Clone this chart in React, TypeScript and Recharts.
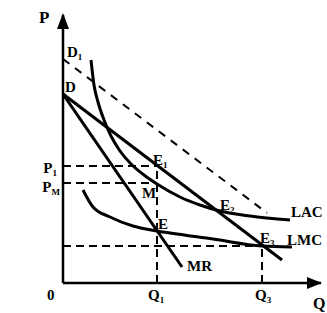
import { ComposedChart, Line, XAxis, YAxis, ReferenceLine, ReferenceDot } from "recharts";

// quantity (q) and price (p) in chart units
const demand = [{ q: 0, p: 189 }, { q: 219, p: 23 }];
const demandShifted = [{ q: 0, p: 224 }, { q: 204, p: 70 }];
const marginalRevenue = [{ q: 0, p: 189 }, { q: 119, p: 16 }];
const lac = [
  { q: 28, p: 223 }, { q: 31, p: 198 }, { q: 35, p: 181 }, { q: 41, p: 163 },
  { q: 48, p: 147 }, { q: 57, p: 132 }, { q: 68, p: 119 }, { q: 81, p: 108 },
  { q: 94, p: 99 }, { q: 117, p: 86 }, { q: 137, p: 78 }, { q: 157, p: 72 },
  { q: 187, p: 67 }, { q: 227, p: 63 },
];
const lmc = [
  { q: 20, p: 93 }, { q: 30, p: 76 }, { q: 47, p: 66 }, { q: 70, p: 57 },
  { q: 94, p: 52 }, { q: 107, p: 50 }, { q: 150, p: 44 }, { q: 199, p: 37 },
  { q: 229, p: 36 },
];

const Q1 = 94;
const Q3 = 199;
const P1 = 117;
const PM = 100;
const PC = 37;
const E = 52;
const E2 = { q: 155, p: 72 };
const Q_MAX = 258;
const P_MAX = 268;

const FONT = "'Liberation Serif', 'Times New Roman', serif";

const tag = (main: string, sub: string, dx: number, dy: number, anchor = "start", size = 15) =>
  (props: any) => (
    <text x={props.cx + dx} y={props.cy + dy} textAnchor={anchor} fontFamily={FONT}
      fontWeight="bold" fontSize={size} fill="#000">
      {main}
      {sub ? <tspan fontSize={Math.round(size * 0.62)} dy={3}>{sub}</tspan> : null}
    </text>
  );

const arrowUp = (props: any) => (
  <polygon points={`${props.cx},${props.cy - 2} ${props.cx - 6},${props.cy + 14} ${props.cx + 6},${props.cy + 14}`} fill="#000" />
);

const arrowRight = (props: any) => (
  <polygon points={`${props.cx + 1},${props.cy} ${props.cx - 14},${props.cy - 6} ${props.cx - 14},${props.cy + 6}`} fill="#000" />
);

const dash = { stroke: "#000", strokeWidth: 2, strokeDasharray: "8 5" };

const App = () => (
  <div style={{ position: "absolute", left: 0, top: 0, background: "#fff" }}>
    <ComposedChart width={327} height={313} margin={{ top: 15, right: 6, bottom: 0, left: 0 }}>
      <XAxis type="number" dataKey="q" domain={[0, Q_MAX]} allowDataOverflow height={30}
        tick={false} tickLine={false} axisLine={{ stroke: "#000", strokeWidth: 2.5 }} />
      <YAxis type="number" dataKey="p" domain={[0, P_MAX]} allowDataOverflow width={63}
        tick={false} tickLine={false} axisLine={{ stroke: "#000", strokeWidth: 2.5 }} />

      <ReferenceLine segment={[{ x: 0, y: P1 }, { x: Q1, y: P1 }]} {...dash} />
      <ReferenceLine segment={[{ x: 0, y: PM }, { x: Q1, y: PM }]} {...dash} />
      <ReferenceLine segment={[{ x: Q1, y: 0 }, { x: Q1, y: P1 }]} {...dash} />
      <ReferenceLine segment={[{ x: 0, y: PC }, { x: Q3, y: PC }]} {...dash} />
      <ReferenceLine segment={[{ x: Q3, y: 0 }, { x: Q3, y: PC }]} {...dash} />

      <Line data={demandShifted} dataKey="p" type="linear" stroke="#000" strokeWidth={2}
        strokeDasharray="8 7" dot={false} activeDot={false} isAnimationActive={false} />
      <Line data={demand} dataKey="p" type="linear" stroke="#000" strokeWidth={3}
        dot={false} activeDot={false} isAnimationActive={false} />
      <Line data={marginalRevenue} dataKey="p" type="linear" stroke="#000" strokeWidth={3}
        dot={false} activeDot={false} isAnimationActive={false} />
      <Line data={lac} dataKey="p" type="monotone" stroke="#000" strokeWidth={3}
        dot={false} activeDot={false} isAnimationActive={false} />
      <Line data={lmc} dataKey="p" type="monotone" stroke="#000" strokeWidth={3}
        dot={false} activeDot={false} isAnimationActive={false} />

      <ReferenceDot x={0} y={P_MAX} r={0} shape={arrowUp} />
      <ReferenceDot x={Q_MAX} y={0} r={0} shape={arrowRight} />

      <ReferenceDot x={0} y={P_MAX} r={0} shape={tag("P", "", -24, 8, "start", 17)} />
      <ReferenceDot x={Q_MAX} y={0} r={0} shape={tag("Q", "", -8, 26, "start", 16)} />
      <ReferenceDot x={0} y={0} r={0} shape={tag("0", "", -16, 17)} />
      <ReferenceDot x={Q1} y={0} r={0} shape={tag("Q", "1", -9, 17)} />
      <ReferenceDot x={Q3} y={0} r={0} shape={tag("Q", "3", -7, 17)} />
      <ReferenceDot x={0} y={P1} r={0} shape={tag("P", "1", -6, 7, "end")} />
      <ReferenceDot x={0} y={PM} r={0} shape={tag("P", "M", -3, 9, "end")} />
      <ReferenceDot x={0} y={224} r={0} shape={tag("D", "1", 4, -2)} />
      <ReferenceDot x={0} y={189} r={0} shape={tag("D", "", 2, -2)} />
      <ReferenceDot x={Q1} y={P1} r={0} shape={tag("E", "1", -4, -1)} />
      <ReferenceDot x={Q1} y={PM} r={0} shape={tag("M", "", -15, 15)} />
      <ReferenceDot x={Q1} y={E} r={0} shape={tag("E", "", 1, -2)} />
      <ReferenceDot x={E2.q} y={E2.p} r={0} shape={tag("E", "2", 2, -1)} />
      <ReferenceDot x={Q3} y={PC} r={0} shape={tag("E", "3", -2, -3)} />
      <ReferenceDot x={227} y={63} r={0} shape={tag("LAC", "", 1, -3)} />
      <ReferenceDot x={229} y={36} r={0} shape={tag("LMC", "", -5, -2)} />
      <ReferenceDot x={119} y={16} r={0} shape={tag("MR", "", 5, 4)} />
    </ComposedChart>
  </div>
);

export default App;
